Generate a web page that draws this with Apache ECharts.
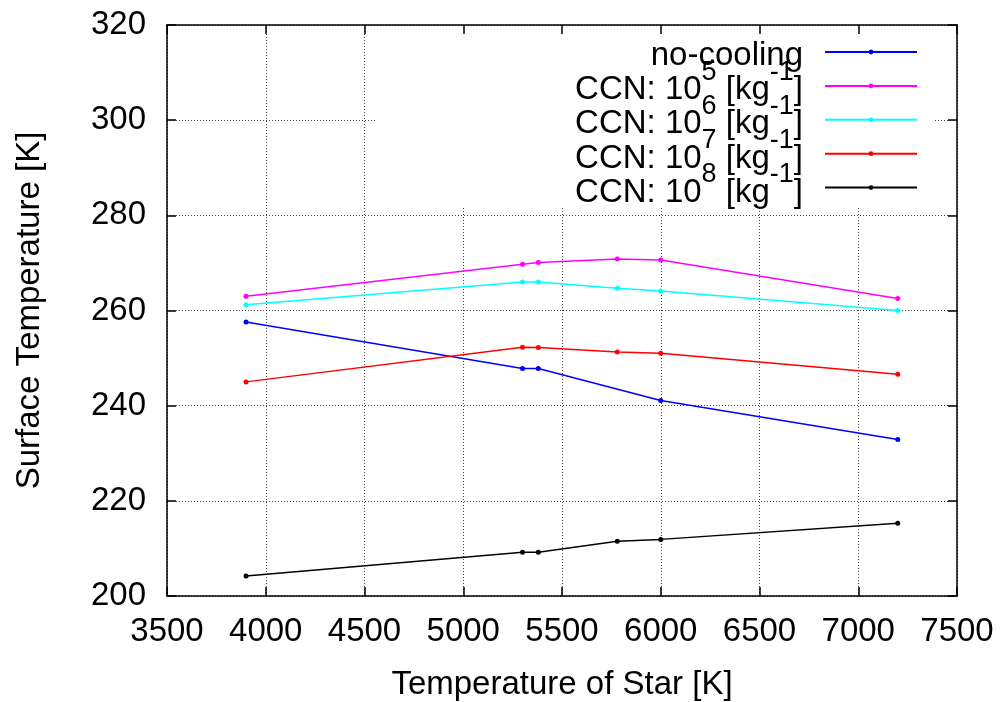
<!DOCTYPE html>
<html>
<head>
<meta charset="utf-8">
<script src="https://cdn.jsdelivr.net/npm/echarts@6/dist/echarts.min.js"></script>
<style>html,body{margin:0;padding:0;background:#fff;}#c{width:1006px;height:702px;}</style>
</head>
<body>
<div id="c"></div>
<script>
// ---- data ----
const starTemps = [3900, 5300, 5380, 5780, 6000, 7200];
const noCooling = [257.6, 247.8, 247.8, null, 241.1, 232.9];
const ccn1e5 = [263.0, 269.7, 270.1, 270.8, 270.6, 262.5];
const ccn1e6 = [261.2, 266.0, 266.0, 264.7, 264.1, 260.0];
const ccn1e7 = [245.0, 252.3, 252.2, 251.3, 251.0, 246.6];
const ccn1e8 = [204.2, 209.2, 209.2, 211.5, 211.9, 215.3];
const seriesNames = ['no-cooling', 'CCN: 10^5 [kg^-1]', 'CCN: 10^6 [kg^-1]', 'CCN: 10^7 [kg^-1]', 'CCN: 10^8 [kg^-1]'];
// legend text pieces: [text, isSuperscript]
const legendPieces = [
  [['no-cooling', false]],
  [['CCN: 10', false], ['5', true], [' [kg', false], ['-1', true], [']', false]],
  [['CCN: 10', false], ['6', true], [' [kg', false], ['-1', true], [']', false]],
  [['CCN: 10', false], ['7', true], [' [kg', false], ['-1', true], [']', false]],
  [['CCN: 10', false], ['8', true], [' [kg', false], ['-1', true], [']', false]]
];
const seriesColors = ['#0000ff', '#ff00ff', '#00ffff', '#ff0000', '#000000'];
const xRange = [3500, 7500, 500];
const yRange = [200, 320, 20];

const FONT = "'Liberation Sans', Arial, Helvetica, sans-serif";
const NORMAL_SIZE = 33, SUP_SIZE = 27;
const allValues = [noCooling, ccn1e5, ccn1e6, ccn1e7, ccn1e8];

function pairs(vals) {
  const out = [];
  vals.forEach((v, i) => { if (v !== null) out.push([starTemps[i], v]); });
  return out;
}

const series = allValues.map((vals, i) => ({
  name: seriesNames[i],
  type: 'line',
  data: pairs(vals),
  symbol: 'circle',
  symbolSize: 5,
  showSymbol: true,
  lineStyle: { color: seriesColors[i], width: 1.5 },
  itemStyle: { color: seriesColors[i] },
  emphasis: { disabled: true },
  z: 2
}));

// ---- legend text (with superscripts) laid out right-aligned next to the legend icons ----
const legendFirstLineY = 50.8, legendRowGap = 34.3, legendItemH = 6, legendTextRight = 803;
const mctx = document.createElement('canvas').getContext('2d');
function fontStr(sz) { return sz + 'px ' + FONT; }
function measure(t, sz) { mctx.font = fontStr(sz); return mctx.measureText(t).width; }
const legendTextEls = [];
legendPieces.forEach((pieces, row) => {
  const lineY = legendFirstLineY + row * legendRowGap;
  const total = pieces.reduce((s, p) => s + measure(p[0], p[1] ? SUP_SIZE : NORMAL_SIZE), 0);
  let x = legendTextRight - total;
  pieces.forEach(p => {
    const sz = p[1] ? SUP_SIZE : NORMAL_SIZE;
    legendTextEls.push({
      type: 'text', z: 6, silent: true,
      x: x, y: p[1] ? lineY - 13 : lineY + 5,
      style: { text: p[0], font: fontStr(sz), fill: '#000', align: 'left', verticalAlign: 'middle', textAlign: 'left', textVerticalAlign: 'middle' }
    });
    x += measure(p[0], sz);
  });
});

const tickStyle = { color: '#000', width: 1.5 };
const chart = echarts.init(document.getElementById('c'), null, { renderer: 'canvas' });
chart.setOption({
  animation: false,
  backgroundColor: '#fff',
  textStyle: { fontFamily: FONT },
  grid: { left: 167, right: 49, top: 25, bottom: 106, containLabel: false, outerBoundsMode: 'none' },
  xAxis: [{
    type: 'value', min: xRange[0], max: xRange[1], interval: xRange[2],
    position: 'bottom',
    name: 'Temperature of Star [K]', nameLocation: 'middle', nameGap: 72,
    nameTextStyle: { fontSize: NORMAL_SIZE, color: '#000', fontFamily: FONT },
    axisLine: { show: true, lineStyle: tickStyle },
    axisTick: { show: true, inside: true, length: 9, lineStyle: tickStyle },
    axisLabel: { fontSize: NORMAL_SIZE, color: '#000', margin: 19, fontFamily: FONT, formatter: v => String(v) },
    splitLine: { show: true, lineStyle: { color: '#444', width: 1, type: [1, 2] } },
    z: 0
  }, {
    type: 'value', min: xRange[0], max: xRange[1], interval: xRange[2],
    position: 'top',
    axisLine: { show: true, lineStyle: tickStyle },
    axisTick: { show: true, inside: true, length: 9, lineStyle: tickStyle },
    axisLabel: { show: false },
    splitLine: { show: false },
    z: 3
  }],
  yAxis: [{
    type: 'value', min: yRange[0], max: yRange[1], interval: yRange[2],
    position: 'left',
    name: 'Surface Temperature [K]', nameLocation: 'middle', nameGap: 121,
    nameTextStyle: { fontSize: NORMAL_SIZE, color: '#000', fontFamily: FONT },
    axisLine: { show: true, lineStyle: tickStyle },
    axisTick: { show: true, inside: true, length: 9, lineStyle: tickStyle },
    axisLabel: { fontSize: NORMAL_SIZE, color: '#000', margin: 21, fontFamily: FONT, formatter: v => String(v) },
    splitLine: { show: true, lineStyle: { color: '#444', width: 1, type: [1, 2] } },
    z: 0
  }, {
    type: 'value', min: yRange[0], max: yRange[1], interval: yRange[2],
    position: 'right',
    axisLine: { show: true, lineStyle: tickStyle },
    axisTick: { show: true, inside: true, length: 9, lineStyle: tickStyle },
    axisLabel: { show: false },
    splitLine: { show: false },
    z: 3
  }],
  graphic: [{
    type: 'rect', z: 1, silent: true,
    shape: { x: 377, y: 26, width: 558, height: 180 },
    style: { fill: '#fff' }
  }].concat(legendTextEls),
  legend: {
    orient: 'vertical', align: 'right',
    right: 88, top: 49.6, padding: 0,
    itemWidth: 92, itemHeight: legendItemH, itemGap: 29.1,
    selectedMode: false,
    data: seriesNames,
    formatter: () => '',
    textStyle: { fontSize: 1, lineHeight: 1 },
    z: 4
  },
  series: series
});
</script>
</body>
</html>
